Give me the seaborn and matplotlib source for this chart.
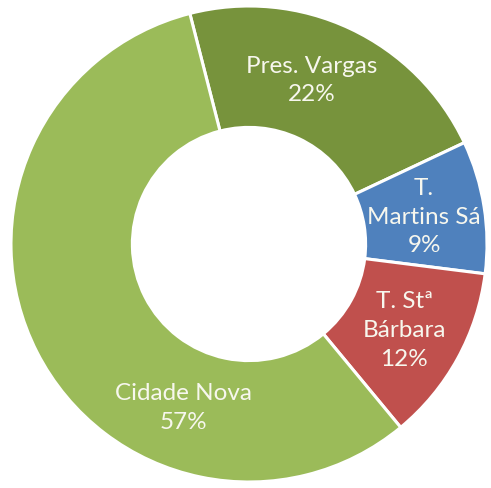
import numpy as np
import seaborn as sns
import matplotlib.pyplot as plt

# Data (clockwise from the top)
labels = ["Pres. Vargas", "T.\nMartins Sá", "T. Stª\nBárbara", "Cidade Nova"]
shares = [22, 9, 12, 57]
colors = ["#77933C", "#4F81BD", "#C0504D", "#9BBB59"]

sns.set_theme(style="white")
plt.rcParams['font.family'] = ['Lato', 'DejaVu Sans']

fig = plt.figure(figsize=(4.91, 4.89), dpi=100)
ax = fig.add_axes([0, 0, 1, 1])

start = 104.4
ring = 0.51
wedges, _ = ax.pie(shares, colors=colors, startangle=start, counterclock=False,
                   radius=1.0,
                   wedgeprops=dict(width=ring, edgecolor="white", linewidth=2.2))

# Labels near the middle of each wedge (a couple were nudged in the original)
nudge = {"Pres. Vargas": (69, 0.74), "Cidade Nova": (-112, 0.74)}
total = sum(shares)
cum = 0
for lab, val in zip(labels, shares):
    mid = start - (cum + val / 2) / total * 360
    r = 1 - ring / 2
    if lab in nudge:
        mid, r = nudge[lab]
    x, y = r * np.cos(np.radians(mid)), r * np.sin(np.radians(mid))
    ax.text(x, y, f"{lab}\n{val}%", ha="center", va="center",
            color="#F7F7EE", fontsize=17.5, linespacing=1.45)
    cum += val

ax.set_xlim(-249 / 238, (491 - 249) / 238)
ax.set_ylim(-244 / 238, (489 - 244) / 238)
ax.set_aspect("equal", adjustable="box")
ax.axis("off")

fig.savefig("out.png", dpi=100)
